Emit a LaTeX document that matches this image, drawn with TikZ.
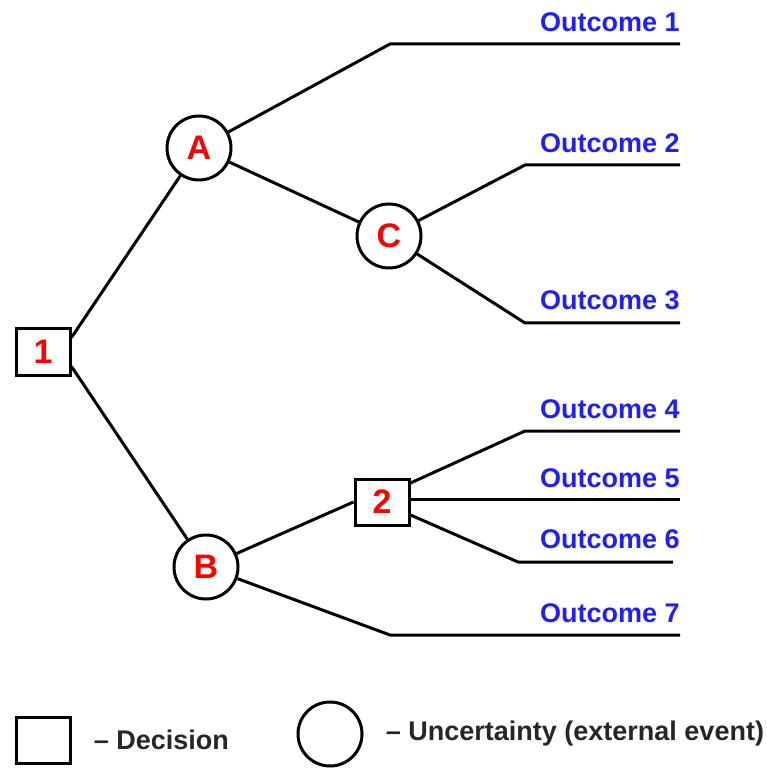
\documentclass[tikz,border=0pt]{standalone}
\usepackage{fontspec}
\setmainfont{Liberation Sans}
\usepackage{xcolor}
\usepackage{tikz}
\usetikzlibrary{positioning}

\definecolor{outblue}{RGB}{30,30,255}

\begin{document}
\begin{tikzpicture}[x=0.5pt, y=-0.5pt,
    decision/.style={rectangle, draw, line width=1.5pt, minimum width=27pt,
                     minimum height=23pt, inner sep=0pt, text=red,
                     font=\fontsize{17}{17}\selectfont\bfseries},
    chance/.style={circle, draw, line width=1.5pt, minimum size=32pt,
                   inner sep=0pt, text=red,
                   font=\fontsize{17}{17}\selectfont\bfseries},
    branch/.style={line width=1.5pt, line join=round},
    outcome/.style={anchor=base east, inner sep=0pt, text=outblue,
                    font=\fontsize{13.5}{14}\selectfont\bfseries},
    legtext/.style={inner sep=0pt, text=black!85,
                    font=\fontsize{13.5}{14}\selectfont\bfseries},
]
\useasboundingbox (0,0) rectangle (766,769);

% Decision and chance nodes
\node[decision] (d1) at (43,352) {1};
\node[chance] (A) at (199,148) {A};
\node[chance] (C) at (389,236) {C};
\node[chance] (B) at (206,567) {B};
\node[decision] (d2) at (382,502) {2};

% Bends and ends of the outcome lines
\coordinate (b1) at (390,44);  \coordinate (e1) at (680,44);
\coordinate (b2) at (525,165); \coordinate (e2) at (680,165);
\coordinate (b3) at (525,323); \coordinate (e3) at (680,323);
\coordinate (b4) at (525,431); \coordinate (e4) at (680,431);
\coordinate (e5) at (680,499);
\coordinate (b6) at (518,562); \coordinate (e6) at (673,562);
\coordinate (b7) at (390,635); \coordinate (e7) at (680,635);

% Branches
\draw[branch] (d1.27) -- (A);
\draw[branch] (d1.-27) -- (B);
\draw[branch] (A) -- (b1) -- (e1);
\draw[branch] (A) -- (C);
\draw[branch] (C) -- (b2) -- (e2);
\draw[branch] (C) -- (b3) -- (e3);
\draw[branch] (B) -- (d2.west |- 0,502);
\draw[branch] (d2.east |- 0,483) -- (b4) -- (e4);
\draw[branch] (d2.east |- 0,499) -- (e5);
\draw[branch] (d2.east |- 0,515) -- (b6) -- (e6);
\draw[branch] (B) -- (b7) -- (e7);

% Outcome labels
\node[outcome] (o1) at (680,32) {Outcome 1};
\node[outcome] (o2) at (680,153) {Outcome 2};
\node[outcome] (o3) at (680,310) {Outcome 3};
\node[outcome] (o4) at (680,418) {Outcome 4};
\node[outcome] (o5) at (680,487) {Outcome 5};
\node[outcome] (o6) at (680,548) {Outcome 6};
\node[outcome] (o7) at (680,622) {Outcome 7};

% Legend
\node[decision] (legD) at (43,740) {};
\node[legtext, right=11pt of legD] (legDtext) {\textendash\ Decision};
\node[chance] (legC) at (330,734) {};
\node[legtext, right=11pt of legC] (legCtext) {\textendash\ Uncertainty (external event)};
\end{tikzpicture}
\end{document}
